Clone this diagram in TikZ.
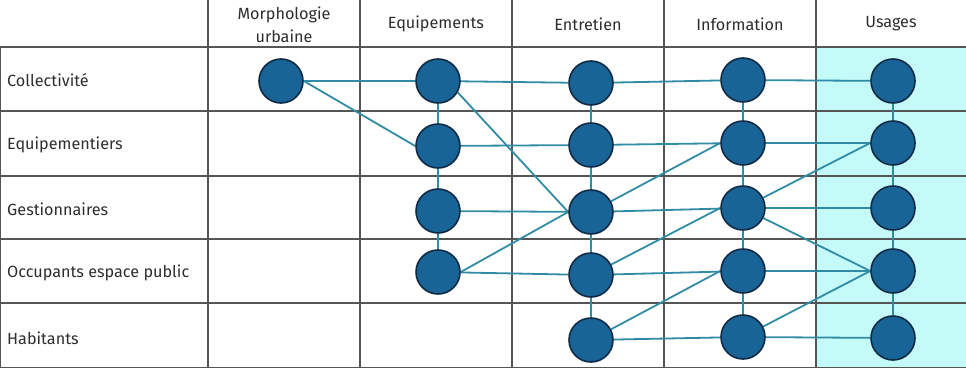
\documentclass[tikz,border=0pt]{standalone}
\usepackage{fontspec}
\setmainfont{Fira Sans}
\pgfdeclarelayer{bg}
\pgfsetlayers{bg,main}
\definecolor{nodefill}{RGB}{24,100,150}
\definecolor{nodeline}{RGB}{14,42,68}
\definecolor{edgecol}{RGB}{48,140,165}
\definecolor{usagefill}{RGB}{196,250,248}
\definecolor{gridcol}{RGB}{85,85,85}
\definecolor{textcol}{RGB}{45,45,45}
\tikzset{
  actor/.style={circle,minimum size=44pt,inner sep=0pt,fill=nodefill,draw=nodeline,line width=1.6pt},
  link/.style={draw=edgecol,line width=1.8pt},
  gridline/.style={draw=gridcol,line width=1.2pt},
  rowlabel/.style={anchor=west,inner sep=0pt,font=\fontsize{16.2}{19}\selectfont,text=textcol},
  headlabel/.style={align=center,inner sep=0pt,font=\fontsize{16.2}{23}\selectfont,text=textcol}
}
\begin{document}
\begin{tikzpicture}[x=1pt,y=-1pt]
\useasboundingbox (0,0) rectangle (966,369);
\begin{pgfonlayer}{bg}
  \fill[usagefill] (816,47) rectangle (966,368);
  % horizontal grid lines
  \draw[gridline] (0,47) -- (966,47);
  \draw[gridline] (0,111) -- (966,111);
  \draw[gridline] (0,176) -- (966,176);
  \draw[gridline] (0,239) -- (966,239);
  \draw[gridline] (0,303) -- (966,303);
  \draw[gridline] (0,367.5) -- (966,367.5);
  % vertical grid lines
  \draw[gridline] (0.6,47) -- (0.6,368);
  \foreach \x in {208,360,512,664,816} \draw[gridline] (\x,0) -- (\x,368);
\end{pgfonlayer}
% headers
\node[headlabel] (hM) at (284,25) {Morphologie\\urbaine};
\node[headlabel] (hQ) at (436,24) {Equipements};
\node[headlabel] (hN) at (588,24) {Entretien};
\node[headlabel] (hI) at (740,24) {Information};
\node[headlabel] (hU) at (891,24) {Usages};
% row labels
\node[rowlabel] (r1) at (7,80) {Collectivité};
\node[rowlabel] (r2) at (7,145) {Equipementiers};
\node[rowlabel] (r3) at (7,209) {Gestionnaires};
\node[rowlabel] (r4) at (7,273) {Occupants espace public};
\node[rowlabel] (r5) at (7,338) {Habitants};
% actor nodes
\node[actor] (M1) at (281,81) {};
\node[actor] (Q1) at (438,81) {};
\node[actor] (Q2) at (438,146) {};
\node[actor] (Q3) at (438,211) {};
\node[actor] (Q4) at (438,272) {};
\node[actor] (N1) at (591,83) {};
\node[actor] (N2) at (591,145) {};
\node[actor] (N3) at (591,212) {};
\node[actor] (N4) at (591,275) {};
\node[actor] (N5) at (591,340) {};
\node[actor] (I1) at (743,80) {};
\node[actor] (I2) at (743,143) {};
\node[actor] (I3) at (743,208) {};
\node[actor] (I4) at (743,271) {};
\node[actor] (I5) at (743,337) {};
\node[actor] (U1) at (893,81) {};
\node[actor] (U2) at (893,143) {};
\node[actor] (U3) at (893,208) {};
\node[actor] (U4) at (893,271) {};
\node[actor] (U5) at (893,338) {};
\begin{pgfonlayer}{bg}
  % Morphologie
  \draw[link] (M1) -- (Q1);
  \draw[link] (M1.east) -- (Q2.west);
  % Equipements
  \draw[link] (Q1) -- (Q2);
  \draw[link] (Q2) -- (Q3);
  \draw[link] (Q3) -- (Q4);
  \draw[link] (Q1) -- (N1);
  \draw[link] (Q1.-30) -- (N3.west);
  \draw[link] (Q2) -- (N2);
  \draw[link] (Q3) -- (N3);
  \draw[link] (Q4.east) -- (N3.west);
  \draw[link] (Q4) -- (N4);
  % Entretien
  \draw[link] (N1) -- (N2);
  \draw[link] (N2) -- (N3);
  \draw[link] (N3) -- (N4);
  \draw[link] (N4) -- (N5);
  \draw[link] (N1) -- (I1);
  \draw[link] (N2) -- (I2);
  \draw[link] (N3) -- (I2.west);
  \draw[link] (N3) -- (I3);
  \draw[link] (N4) -- (I3.west);
  \draw[link] (N4) -- (I4);
  \draw[link] (N5) -- (I4.west);
  \draw[link] (N5) -- (I5);
  % Information
  \draw[link] (I1) -- (I2);
  \draw[link] (I2) -- (I3);
  \draw[link] (I3) -- (I4);
  \draw[link] (I4) -- (I5);
  \draw[link] (I1) -- (U1);
  \draw[link] (I2) -- (U2);
  \draw[link] (I3) -- (U2.west);
  \draw[link] (I3) -- (U3);
  \draw[link] (I3) -- (U4.west);
  \draw[link] (I4) -- (U4);
  \draw[link] (I5) -- (U4.west);
  \draw[link] (I5) -- (U5);
  % Usages
  \draw[link] (U1) -- (U2);
  \draw[link] (U2) -- (U3);
  \draw[link] (U3) -- (U4);
  \draw[link] (U4) -- (U5);
\end{pgfonlayer}
\end{tikzpicture}
\end{document}
